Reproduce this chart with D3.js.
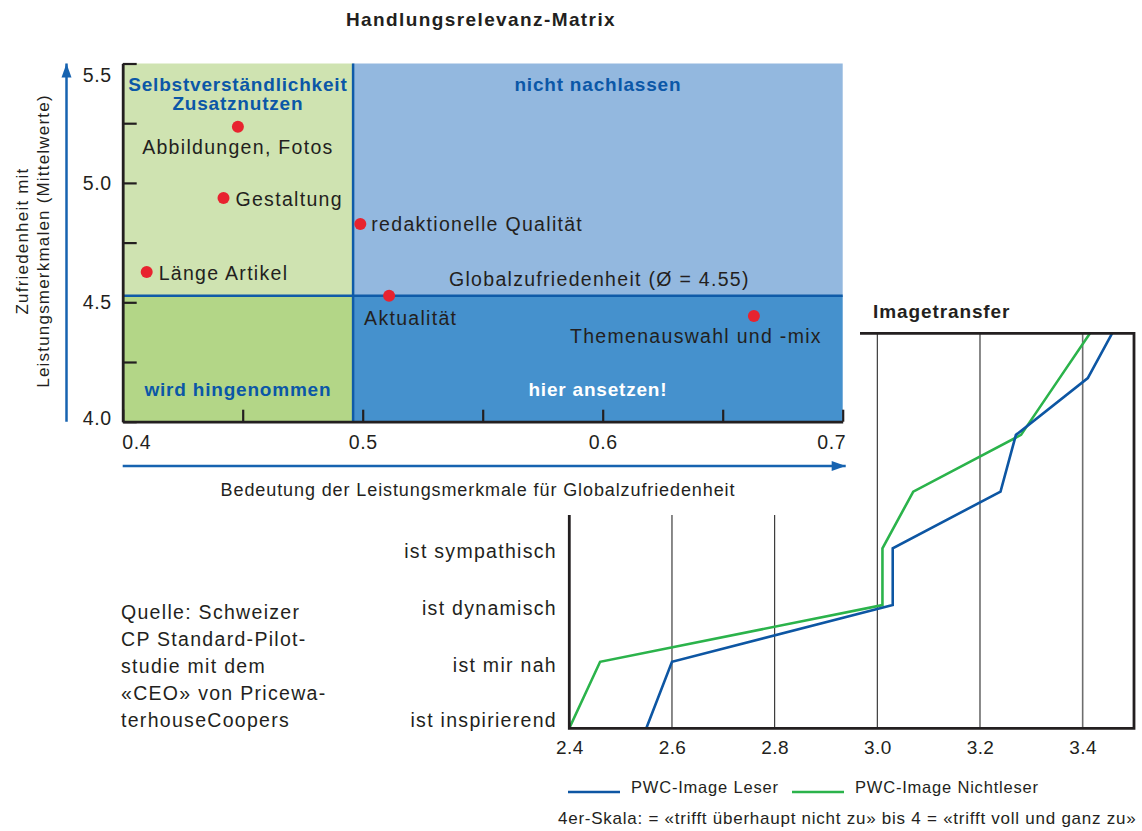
<!DOCTYPE html>
<html><head><meta charset="utf-8">
<script src="https://cdn.jsdelivr.net/npm/d3@7"></script>
<style>
html,body{margin:0;padding:0;background:#fff;}
svg{display:block;}
text{font-family:"Liberation Sans",Arial,Helvetica,sans-serif;fill:#231f20;}
</style></head><body>
<svg id="chart" width="1142" height="831"></svg>
<script>
// ---------- DATA: Handlungsrelevanz-Matrix ----------
const features = ["Abbildungen, Fotos","Gestaltung","Länge Artikel","redaktionelle Qualität","Aktualität","Themenauswahl und -mix"];
const importance = [0.448, 0.442, 0.410, 0.499, 0.511, 0.663];   // Bedeutung (x)
const satisfaction = [5.235, 4.937, 4.627, 4.828, 4.527, 4.443]; // Zufriedenheit (y)
const importanceTicks = [0.4, 0.5, 0.6, 0.7];
const importanceMinor = [0.45, 0.55, 0.65];
const satisfactionTicks = [4.0, 4.5, 5.0, 5.5];
const satisfactionMinor = [4.25, 4.75, 5.25];
const importanceSplit = 0.496;
const satisfactionMean = 4.527;
const meanLabel = "Globalzufriedenheit (Ø = 4.55)";
const quadrantTitles = [["Selbstverständlichkeit","Zusatznutzen"],["nicht nachlassen"],["wird hingenommen"],["hier ansetzen!"]];

// ---------- DATA: Imagetransfer ----------
const imageLabels = ["ist inspirierend","ist mir nah","ist dynamisch","ist sympathisch"];
const imageLeser      = [2.55, 2.60, 3.03, 3.03, 3.24, 3.27, 3.41, 3.47];
const imageNichtleser = [2.40, 2.46, 3.01, 3.01, 3.07, 3.28, 3.355, 3.43];
const imageTicks = [2.4, 2.6, 2.8, 3.0, 3.2, 3.4];
const seriesNames = ["PWC-Image Leser","PWC-Image Nichtleser"];
const sourceLines = ["Quelle: Schweizer","CP Standard-Pilot-","studie mit dem","«CEO» von Pricewa-","terhouseCoopers"];
const scaleNote = "4er-Skala: = «trifft überhaupt nicht zu» bis 4 = «trifft voll und ganz zu»";

// ---------- STYLE ----------
const C = {tl:"#cfe3b1", bl:"#b3d687", tr:"#93b8df", br:"#4591cd", divider:"#0f5ba8", qtext:"#0b57a7",
           dot:"#e8232f", axis:"#231f20", arrow:"#1763b0", blue:"#0d56a3", green:"#2bb34b"};
const LS = "1.3px";

const svg = d3.select("#chart");

// ================= MATRIX =================
const M = {left:122.7, right:842.7, top:63.5, bottom:421.7};
const x = d3.scaleLinear().domain([0.4, 0.7]).range([M.left, M.right]);
const y = d3.scaleLinear().domain([4.0, 5.5]).range([M.bottom, M.top]);
const [xmin, xmax] = x.domain(), [ymin, ymax] = y.domain();

const quads = [
  {x0:xmin, x1:importanceSplit, y0:satisfactionMean, y1:ymax, fill:C.tl},
  {x0:importanceSplit, x1:xmax, y0:satisfactionMean, y1:ymax, fill:C.tr},
  {x0:xmin, x1:importanceSplit, y0:ymin, y1:satisfactionMean, fill:C.bl},
  {x0:importanceSplit, x1:xmax, y0:ymin, y1:satisfactionMean, fill:C.br}
];
svg.append("g").selectAll("rect").data(quads).join("rect")
  .attr("x", d => x(d.x0)).attr("y", d => y(d.y1))
  .attr("width", d => x(d.x1) - x(d.x0)).attr("height", d => y(d.y0) - y(d.y1))
  .attr("fill", d => d.fill);

// divider lines
svg.append("line").attr("x1", x(importanceSplit)).attr("x2", x(importanceSplit))
  .attr("y1", y(ymax)).attr("y2", y(ymin)).attr("stroke", C.divider).attr("stroke-width", 2.5);
svg.append("line").attr("x1", x(xmin)).attr("x2", x(xmax))
  .attr("y1", y(satisfactionMean)).attr("y2", y(satisfactionMean)).attr("stroke", C.divider).attr("stroke-width", 2.5);

// quadrant titles
const qPos = [
  {cx:(x(xmin)+x(importanceSplit))/2, y:y(ymax)+27, fill:C.qtext},
  {cx:(x(importanceSplit)+x(xmax))/2, y:y(ymax)+27, fill:C.qtext},
  {cx:(x(xmin)+x(importanceSplit))/2, y:y(ymin)-26, fill:C.qtext},
  {cx:(x(importanceSplit)+x(xmax))/2, y:y(ymin)-26, fill:"#ffffff"}
];
quadrantTitles.forEach((lines, i) => {
  const t = svg.append("text").attr("text-anchor","middle").attr("font-weight","bold")
    .attr("font-size", 19).style("letter-spacing","0.8px").style("fill", qPos[i].fill);
  lines.forEach((ln, j) => t.append("tspan").attr("x", qPos[i].cx).attr("y", qPos[i].y + j*19).text(ln));
});

// axes
const yAxis = d3.axisLeft(y).tickValues(satisfactionTicks.concat(satisfactionMinor))
  .tickSize(-14).tickSizeOuter(0).tickPadding(11)
  .tickFormat(d => satisfactionTicks.includes(d) ? d3.format(".1f")(d) : "");
const gy = svg.append("g").attr("transform", `translate(${M.left},0)`).call(yAxis);
const xAxis = d3.axisBottom(x).tickValues(importanceTicks.concat(importanceMinor))
  .tickSize(-12).tickSizeOuter(0).tickPadding(13)
  .tickFormat(d => importanceTicks.includes(d) ? d3.format(".1f")(d) : "");
const gx = svg.append("g").attr("transform", `translate(0,${M.bottom})`).call(xAxis);
[gx, gy].forEach(g => {
  g.select(".domain").attr("stroke", C.axis).attr("stroke-width", 2.8);
  g.selectAll(".tick line").attr("stroke", C.axis).attr("stroke-width", 2.2);
  g.selectAll(".tick text").attr("font-size", 19.5).style("letter-spacing","0.6px")
    .attr("font-family", "Liberation Sans, Arial, sans-serif").attr("fill", "#3b3b3b");
});
gx.selectAll(".tick text")
  .attr("text-anchor", d => d === xmin ? "start" : d === xmax ? "end" : "middle")
  .attr("dx", d => d === xmin ? -1 : d === xmax ? 3 : 0);
gy.selectAll(".tick text").attr("dy", d => d === ymax ? "0.9em" : d === ymin ? "0.15em" : "0.32em");

// mean label
svg.append("text").attr("x", 449).attr("y", y(satisfactionMean) - 10)
  .attr("font-size", 19.5).style("letter-spacing", LS).text(meanLabel);

// points
const labelPlace = [
  {dx:0, dy:27, anchor:"middle"},
  {dx:12, dy:8, anchor:"start"},
  {dx:12, dy:8, anchor:"start"},
  {dx:11, dy:7, anchor:"start"},
  {dx:-25, dy:29, anchor:"start"},
  {dx:68, dy:27, anchor:"end"}
];
const pts = features.map((f, i) => ({name:f, x:importance[i], y:satisfaction[i], p:labelPlace[i]}));
svg.append("g").selectAll("circle").data(pts).join("circle")
  .attr("cx", d => x(d.x)).attr("cy", d => y(d.y)).attr("r", 6).attr("fill", C.dot);
svg.append("g").selectAll("text").data(pts).join("text")
  .attr("x", d => x(d.x) + d.p.dx).attr("y", d => y(d.y) + d.p.dy)
  .attr("text-anchor", d => d.p.anchor).attr("font-size", 19.5).style("letter-spacing", LS)
  .text(d => d.name);

// title
svg.append("text").attr("x", 481).attr("y", 26).attr("text-anchor","middle")
  .attr("font-weight","bold").attr("font-size", 19).style("letter-spacing","1.4px").text("Handlungsrelevanz-Matrix");

// axis arrows
function arrow(x1, y1, x2, y2) {
  svg.append("line").attr("x1", x1).attr("y1", y1).attr("x2", x2).attr("y2", y2)
    .attr("stroke", C.arrow).attr("stroke-width", 2.5);
  const a = Math.atan2(y2 - y1, x2 - x1), L = 14, W = 5;
  const bx = x2 - L*Math.cos(a), by = y2 - L*Math.sin(a);
  const px = -Math.sin(a)*W, py = Math.cos(a)*W;
  svg.append("path").attr("d", `M${x2},${y2}L${bx+px},${by+py}L${bx-px},${by-py}Z`).attr("fill", C.arrow);
}
arrow(66.5, M.bottom, 66.5, M.top);
arrow(M.left, 466, M.right + 3, 466);

// axis titles
svg.append("text").attr("transform", "translate(28,241) rotate(-90)").attr("text-anchor","middle")
  .attr("font-size", 17).style("letter-spacing","1.2px").attr("fill","#3b3b3b").text("Zufriedenheit mit");
svg.append("text").attr("transform", "translate(49,241) rotate(-90)").attr("text-anchor","middle")
  .attr("font-size", 17).style("letter-spacing","1.2px").attr("fill","#3b3b3b").text("Leistungsmerkmalen (Mittelwerte)");
svg.append("text").attr("x", 478).attr("y", 496).attr("text-anchor","middle")
  .attr("font-size", 18).style("letter-spacing","0.9px").attr("fill","#3b3b3b")
  .text("Bedeutung der Leistungsmerkmale für Globalzufriedenheit");

// ================= IMAGETRANSFER =================
const P = {left:569.3, right:1134, top:333.3, innerTop:515, bottom:728.3, cutX:860};
const xl = d3.scaleLinear().domain([2.4, 3.5]).range([P.left, P.right]);
// category index -> vertical position (first category sits on the axis line)
const yl = d3.scaleLinear().domain([0, 1, 6.79]).range([P.bottom, 661.8, P.top]);

svg.append("clipPath").attr("id","plotclip")
  .append("path").attr("d", `M${P.left},${P.innerTop}H${P.cutX}V${P.top}H${P.right}V${P.bottom}H${P.left}Z`);

const plot = svg.append("g").attr("clip-path","url(#plotclip)");
plot.selectAll("line.grid").data(imageTicks.slice(1)).join("line").attr("class","grid")
  .attr("x1", d => xl(d)).attr("x2", d => xl(d)).attr("y1", P.top).attr("y2", P.bottom)
  .attr("stroke", d => d === 3.4 ? "#6d6d6d" : "#2a2a2a").attr("stroke-width", d => d === 3.4 ? 1.6 : 1.1);

const line = d3.line().x(d => xl(d)).y((d, i) => yl(i));
plot.append("path").datum(imageNichtleser).attr("d", line).attr("fill","none")
  .attr("stroke", C.green).attr("stroke-width", 2.6).attr("stroke-linejoin","miter");
plot.append("path").datum(imageLeser).attr("d", line).attr("fill","none")
  .attr("stroke", C.blue).attr("stroke-width", 2.6).attr("stroke-linejoin","miter");

// frame
svg.append("path").attr("d", `M${P.left},${P.innerTop}V${P.bottom}H${P.right}V${P.top}H${P.cutX}`)
  .attr("fill","none").attr("stroke", C.axis).attr("stroke-width", 2.8);

// x tick labels
const gl = svg.append("g").attr("transform", `translate(0,${P.bottom})`)
  .call(d3.axisBottom(xl).tickValues(imageTicks).tickSize(0).tickPadding(12).tickFormat(d3.format(".1f")));
gl.select(".domain").remove();
gl.selectAll(".tick text").attr("font-size", 19).style("letter-spacing","0.4px").attr("fill","#231f20")
  .attr("font-family","Liberation Sans, Arial, sans-serif");

// category labels
svg.append("g").selectAll("text").data(imageLabels).join("text")
  .attr("x", 557).attr("y", (d, i) => Math.min(yl(i) + 3, P.bottom - 8)).attr("dy","0.35em").attr("text-anchor","end")
  .attr("font-size", 19.5).style("letter-spacing","1.3px").text(d => d);

svg.append("text").attr("x", 873).attr("y", 318).attr("font-weight","bold").attr("font-size", 19)
  .style("letter-spacing","0.9px").text("Imagetransfer");

// legend
const legend = [{name:seriesNames[0], color:C.blue, x:568}, {name:seriesNames[1], color:C.green, x:792}];
legend.forEach(l => {
  svg.append("line").attr("x1", l.x).attr("x2", l.x + 52).attr("y1", 792).attr("y2", 792)
    .attr("stroke", l.color).attr("stroke-width", 2.5);
  svg.append("text").attr("x", l.x + 63).attr("y", 793).attr("font-size", 16.5).style("letter-spacing","0.8px")
    .text(l.name);
});
svg.append("text").attr("x", 558).attr("y", 824).attr("font-size", 17).style("letter-spacing","0.75px").text(scaleNote);

// source
svg.append("g").selectAll("text").data(sourceLines).join("text")
  .attr("x", 121).attr("y", (d, i) => 619 + i*27).attr("font-size", 19.5).style("letter-spacing","1.3px").text(d => d);
</script>
</body></html>
